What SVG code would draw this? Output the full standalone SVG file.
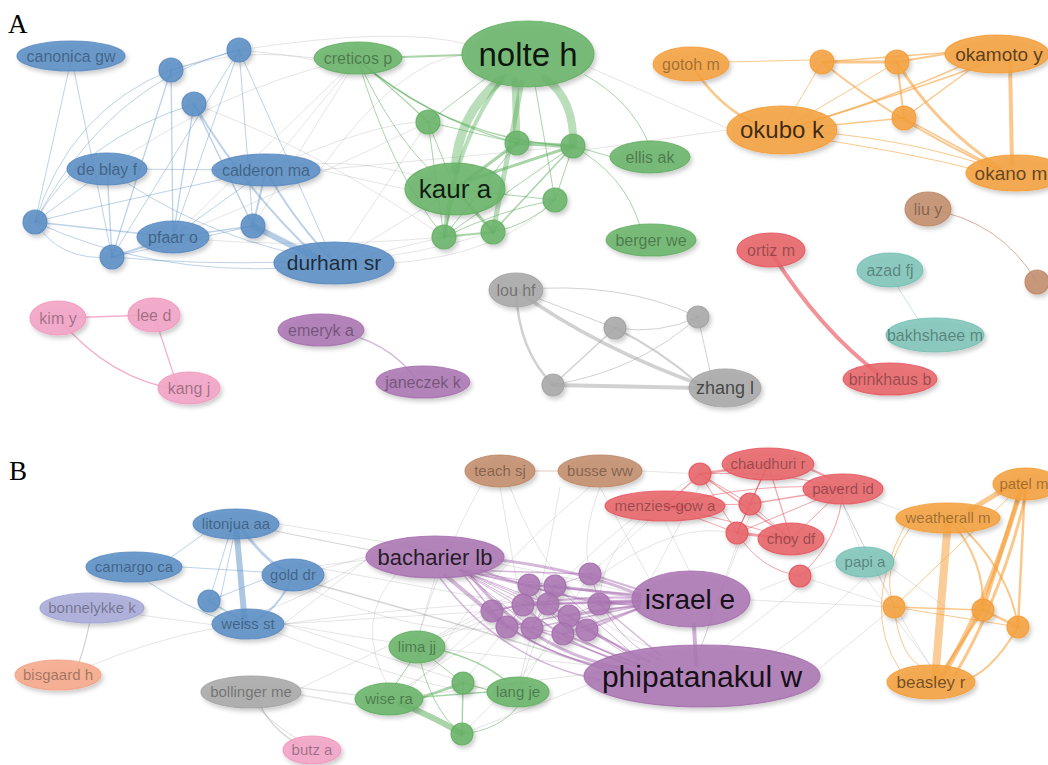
<svg xmlns="http://www.w3.org/2000/svg" width="1048" height="765" viewBox="0 0 1048 765">
<defs>
<filter id="sh" x="-30%" y="-30%" width="160%" height="170%"><feDropShadow dx="2" dy="3" stdDeviation="2.2" flood-color="#000" flood-opacity="0.22"/></filter>
<style>
path{fill:none;stroke-linecap:round}
.eb{stroke:#5b8ec5;stroke-opacity:.4}
.eg{stroke:#8a8a8a;stroke-opacity:.22}
.eG{stroke:#52aa52;stroke-opacity:.5}
.eo{stroke:#f59a30;stroke-opacity:.55}
.er{stroke:#e84a55;stroke-opacity:.5}
.ep{stroke:#a262ab;stroke-opacity:.45}
.ek{stroke:#f08cb8;stroke-opacity:.7}
.ebr{stroke:#b97a55;stroke-opacity:.6}
.et{stroke:#70bfb0;stroke-opacity:.5}
.egr{stroke:#9a9a9a;stroke-opacity:.45}
ellipse,circle{fill-opacity:.88;stroke-width:1.2;stroke-opacity:.8;filter:url(#sh)}
.nb>ellipse,.nb>circle{fill:#5b8ec5;stroke:#5586bd}
.nG>ellipse,.nG>circle{fill:#6ab46a;stroke:#5eab5e}
.no>ellipse,.no>circle{fill:#f5a23f;stroke:#f39a33}
.nr>ellipse,.nr>circle{fill:#e8646a;stroke:#e4505a}
.ngr>ellipse,.ngr>circle{fill:#a8a8a8;stroke:#a0a0a0}
.nk>ellipse,.nk>circle{fill:#f3a3c5;stroke:#f096bd}
.np>ellipse,.np>circle{fill:#ab76b3;stroke:#a36cab}
.nt>ellipse,.nt>circle{fill:#7fc5b9;stroke:#72bdb0}
.nbr>ellipse,.nbr>circle{fill:#c38d6c;stroke:#bb8462}
.nl>ellipse{fill:#a8abd8;stroke:#9ea2d2}
.ns>ellipse{fill:#f6a98a;stroke:#f49f7e}
text{font-family:"Liberation Sans",Arial,sans-serif;text-anchor:middle;fill:#000;fill-opacity:.36;font-size:16px}
.B text{font-size:15px}
text.pl{font-family:"Liberation Serif","Times New Roman",serif;font-size:27px;fill-opacity:1;text-anchor:start}
</style>
</defs>
<rect width="1048" height="765" fill="#fff"/>
<text class="pl" x="8" y="33">A</text>
<text class="pl" x="9" y="480">B</text>

<g id="connectors">
<!-- Panel A grey inter-cluster -->
<path class="eg" d="M239,50 L314,58"/>
<path class="eg" d="M171,70 Q250,45 314,60"/>
<path class="eg" d="M266,170 L358,58"/>
<path class="eg" d="M266,170 Q360,150 455,189"/>
<path class="eg" d="M334,263 L455,189"/>
<path class="eg" d="M334,263 L444,237"/>
<path class="eg" d="M334,263 Q420,255 493,232"/>
<path class="eg" d="M173,237 Q310,180 428,122"/>
<path class="eg" d="M107,169 Q220,90 340,62"/>
<path class="eg" d="M253,226 L358,58"/>
<path class="eg" d="M334,263 L428,122"/>
<path class="eg" d="M194,104 Q320,150 444,237"/>
<path class="eg" d="M320,170 L405,189"/>
<path class="eg" d="M266,170 Q380,120 428,122"/>
<path class="eg" d="M358,58 L173,237"/>
<path class="eg" d="M320,170 Q400,60 462,55"/>
<path class="eg" d="M582,64 L727,128"/>
<path class="eg" d="M585,150 L727,130"/>
<path class="eg" d="M239,50 Q400,25 470,45"/>
<path class="eg" d="M394,263 Q500,255 555,200"/>
<path class="eg" d="M320,170 L573,146"/>
<path class="eg" d="M173,237 Q300,250 444,237"/>
<!-- Panel A blue -->
<path class="eb" d="M71,60 L35,222"/>
<path class="eb" d="M74,70 L112,257"/>
<path class="eb" d="M171,70 L239,50"/>
<path class="eb" d="M171,70 L173,237" style="stroke-width:1.3"/>
<path class="eb" d="M171,70 L112,257" style="stroke-width:1.3"/>
<path class="eb" d="M35,222 Q70,110 171,70"/>
<path class="eb" d="M35,222 Q110,80 239,50"/>
<path class="eb" d="M239,50 L112,257"/>
<path class="eb" d="M239,50 L173,237"/>
<path class="eb" d="M239,50 L253,226"/>
<path class="eb" d="M239,50 L334,263"/>
<path class="eb" d="M194,104 L173,237" style="stroke-width:1.3"/>
<path class="eb" d="M194,104 L253,226" style="stroke-width:1.5"/>
<path class="eb" d="M194,104 Q245,190 318,258" style="stroke-width:2"/>
<path class="eb" d="M35,222 Q80,140 194,104"/>
<path class="eb" d="M107,169 L35,222"/>
<path class="eb" d="M107,169 L112,257" style="stroke-width:1.3"/>
<path class="eb" d="M107,169 L266,170"/>
<path class="eb" d="M107,169 Q190,230 300,255"/>
<path class="eb" d="M266,170 L253,226" style="stroke-width:2"/>
<path class="eb" d="M266,170 Q290,215 330,258" style="stroke-width:2"/>
<path class="eb" d="M266,170 L173,237"/>
<path class="eb" d="M35,222 L173,237" style="stroke-width:1.5"/>
<path class="eb" d="M35,222 Q60,262 112,257"/>
<path class="eb" d="M35,222 Q150,275 290,268"/>
<path class="eb" d="M112,257 L173,237" style="stroke-width:2.2"/>
<path class="eb" d="M112,257 L253,226"/>
<path class="eb" d="M112,257 Q200,265 285,262"/>
<path class="eb" d="M173,237 L253,226" style="stroke-width:1.3"/>
<path class="eb" d="M35,222 Q100,205 266,170"/>
<path class="eb" d="M253,226 L320,260" style="stroke-width:6;stroke-opacity:.45"/>
<!-- Panel A green -->
<path class="eG" d="M500,80 Q458,115 455,170" style="stroke-width:9;stroke-opacity:.4"/>
<path class="eG" d="M505,75 Q455,140 444,237" style="stroke-width:4;stroke-opacity:.4"/>
<path class="eG" d="M515,80 L517,143" style="stroke-width:7;stroke-opacity:.4"/>
<path class="eG" d="M522,82 L493,232" style="stroke-width:5;stroke-opacity:.4"/>
<path class="eG" d="M545,78 Q575,100 573,146" style="stroke-width:8;stroke-opacity:.4"/>
<path class="eG" d="M535,85 L555,200"/>
<path class="eG" d="M490,75 L428,122"/>
<path class="eG" d="M402,57 L462,55" style="stroke-width:2"/>
<path class="eG" d="M585,75 Q630,100 648,142"/>
<path class="eG" d="M358,60 Q400,95 428,122" style="stroke-width:1.2"/>
<path class="eG" d="M358,60 Q430,120 517,143" style="stroke-width:1.2"/>
<path class="eG" d="M358,60 Q450,140 573,146" style="stroke-width:1.5"/>
<path class="eG" d="M358,60 Q390,170 444,237"/>
<path class="eG" d="M358,60 Q390,130 430,170"/>
<path class="eG" d="M428,122 L517,143"/>
<path class="eG" d="M428,122 L444,237"/>
<path class="eG" d="M428,122 L455,189"/>
<path class="eG" d="M455,189 L517,143" style="stroke-width:3"/>
<path class="eG" d="M470,180 L573,146" style="stroke-width:3"/>
<path class="eG" d="M455,189 L493,232" style="stroke-width:3"/>
<path class="eG" d="M455,189 L444,237" style="stroke-width:2"/>
<path class="eG" d="M455,189 L555,200"/>
<path class="eG" d="M517,143 L573,146" style="stroke-width:4"/>
<path class="eG" d="M444,237 L493,232" style="stroke-width:2"/>
<path class="eG" d="M493,232 L573,146" style="stroke-width:1.5"/>
<path class="eG" d="M493,232 Q530,225 555,200"/>
<path class="eG" d="M444,237 L573,146"/>
<path class="eG" d="M555,200 L573,146"/>
<path class="eG" d="M444,237 Q500,210 555,200"/>
<path class="eG" d="M573,146 L612,157"/>
<path class="eG" d="M573,146 Q625,175 640,226"/>
<path class="eG" d="M444,237 L517,143"/>
<!-- Panel A orange -->
<path class="eo" d="M691,64 Q720,110 760,125" style="stroke-width:2.5"/>
<path class="eo" d="M729,62 L810,60"/>
<path class="eo" d="M782,130 L822,62"/>
<path class="eo" d="M782,130 L897,62"/>
<path class="eo" d="M782,130 L904,118" style="stroke-width:1.5"/>
<path class="eo" d="M782,130 Q890,100 985,55" style="stroke-width:1.5"/>
<path class="eo" d="M800,125 Q900,95 995,60" style="stroke-width:1.5"/>
<path class="eo" d="M782,130 Q900,135 1000,170"/>
<path class="eo" d="M790,135 Q900,150 985,172"/>
<path class="eo" d="M822,62 L897,62" style="stroke-width:3"/>
<path class="eo" d="M822,62 L955,52" style="stroke-width:1.5"/>
<path class="eo" d="M822,62 Q900,125 995,168" style="stroke-width:2"/>
<path class="eo" d="M897,62 L945,54" style="stroke-width:2"/>
<path class="eo" d="M897,62 L904,118" style="stroke-width:2"/>
<path class="eo" d="M897,62 Q935,125 1000,168" style="stroke-width:3"/>
<path class="eo" d="M904,118 L990,55" style="stroke-width:1.5"/>
<path class="eo" d="M904,118 L1000,170" style="stroke-width:1.5"/>
<path class="eo" d="M1010,60 L1012,165" style="stroke-width:4"/>
<!-- Panel A small clusters -->
<path class="ebr" d="M928,209 Q1000,220 1037,282"/>
<path class="er" d="M771,252 Q820,330 880,375" style="stroke-width:4;stroke-opacity:.6"/>
<path class="et" d="M890,275 L920,322" style="stroke-width:.8"/>
<path class="egr" d="M516,290 Q600,350 710,388" style="stroke-width:3.5"/>
<path class="egr" d="M516,290 Q518,350 553,385" style="stroke-width:2.5"/>
<path class="egr" d="M516,290 L615,328"/>
<path class="egr" d="M516,290 Q620,280 698,317"/>
<path class="egr" d="M553,385 L700,388" style="stroke-width:4"/>
<path class="egr" d="M553,385 L615,328" style="stroke-width:1.5"/>
<path class="egr" d="M553,385 Q640,370 698,317"/>
<path class="egr" d="M615,328 Q660,350 700,385" style="stroke-width:2"/>
<path class="egr" d="M698,317 L712,380"/>
<path class="egr" d="M615,328 Q660,335 698,317"/>
<path class="ek" d="M58,318 L154,315" style="stroke-width:1.5"/>
<path class="ek" d="M58,318 Q110,380 180,390" style="stroke-width:1.2"/>
<path class="ek" d="M154,315 L178,388" style="stroke-width:1.2"/>
<path class="ep" d="M330,330 Q390,340 418,382" style="stroke-width:1.5"/>

<!-- Panel B grey -->
<path class="eg" d="M92,610 Q85,650 75,672" style="stroke-width:1.2;stroke-opacity:.4"/>
<path class="eg" d="M80,670 Q150,640 215,628"/>
<path class="eg" d="M140,615 L215,625"/>
<path class="eg" d="M255,695 Q270,730 300,745" style="stroke-width:1.2;stroke-opacity:.4"/>
<path class="eg" d="M301,688 L356,695" style="stroke-width:1.3"/>
<path class="eg" d="M301,695 L356,705" style="stroke-width:1.3"/>
<path class="eg" d="M301,688 L390,645"/>
<path class="eg" d="M300,580 Q450,620 600,668" style="stroke-width:1.5;stroke-opacity:.35"/>
<path class="eg" d="M270,530 L370,550" style="stroke-width:1.2;stroke-opacity:.35"/>
<path class="eg" d="M279,524 Q500,560 640,595"/>
<path class="eg" d="M284,624 L366,560"/>
<path class="eg" d="M284,624 L492,611"/>
<path class="eg" d="M284,624 Q420,650 590,665"/>
<path class="eg" d="M284,624 Q450,600 640,600"/>
<path class="eg" d="M284,624 L488,690"/>
<path class="eg" d="M270,630 Q400,680 460,690"/>
<path class="eg" d="M300,575 L366,557"/>
<path class="eg" d="M318,568 L523,605"/>
<path class="eg" d="M300,585 Q420,640 507,627"/>
<path class="eg" d="M480,487 Q440,560 420,632"/>
<path class="eg" d="M500,487 L520,600"/>
<path class="eg" d="M600,487 Q580,540 590,570"/>
<path class="eg" d="M600,487 L650,580"/>
<path class="eg" d="M590,487 Q500,560 440,650"/>
<path class="eg" d="M510,487 Q560,620 660,650"/>
<path class="eg" d="M560,487 Q540,600 520,680"/>
<path class="eg" d="M665,521 L690,572"/>
<path class="eg" d="M640,520 Q600,560 600,600"/>
<path class="eg" d="M700,485 L640,600"/>
<path class="eg" d="M750,515 L700,650"/>
<path class="eg" d="M737,544 L700,650"/>
<path class="eg" d="M800,587 L720,650"/>
<path class="eg" d="M843,504 Q900,620 930,665"/>
<path class="eg" d="M865,577 L930,665"/>
<path class="eg" d="M865,577 Q800,640 760,660"/>
<path class="eg" d="M865,562 L843,504"/>
<path class="eg" d="M836,560 L760,590"/>
<path class="eg" d="M800,576 L894,607"/>
<path class="eg" d="M894,607 L750,600"/>
<path class="eg" d="M894,607 L820,668"/>
<path class="eg" d="M730,533 Q680,520 600,575"/>
<path class="eg" d="M700,474 Q620,520 560,585"/>
<path class="eg" d="M665,506 L590,574"/>
<path class="eg" d="M843,489 L900,510"/>
<path class="eg" d="M642,471 L700,474"/>
<path class="eg" d="M417,647 L492,611"/>
<path class="eg" d="M417,647 L529,585"/>
<path class="eg" d="M389,699 L555,586"/>
<path class="eg" d="M518,692 L548,604"/>
<path class="eg" d="M463,683 L507,627"/>
<path class="eg" d="M462,734 L563,634"/>
<path class="eg" d="M518,692 L590,574"/>
<path class="eg" d="M389,699 L620,670"/>
<path class="eg" d="M462,734 Q550,700 600,680"/>
<path class="eg" d="M435,578 L417,640"/>
<path class="eg" d="M400,570 Q350,620 390,690"/>
<path class="eg" d="M523,605 L417,647"/>
<path class="eg" d="M492,611 Q420,680 400,695"/>
<path class="eg" d="M366,560 L300,568"/>
<path class="eg" d="M366,560 Q300,600 260,612"/>
<path class="eg" d="M880,560 L950,610"/>
<path class="eg" d="M843,504 L894,607"/>
<path class="ebr" d="M535,471 L558,471" style="stroke-opacity:.4"/>
<!-- Panel B blue -->
<path class="eb" d="M236,526 L245,624" style="stroke-width:6;stroke-opacity:.5"/>
<path class="eb" d="M240,526 Q262,558 286,572" style="stroke-width:3"/>
<path class="eb" d="M292,578 Q278,610 252,622" style="stroke-width:2"/>
<path class="eb" d="M170,558 L212,528"/>
<path class="eb" d="M182,567 L262,572"/>
<path class="eb" d="M145,580 Q190,610 225,620"/>
<path class="eb" d="M209,601 L248,624" style="stroke-width:1.5"/>
<path class="eb" d="M209,601 L262,580"/>
<path class="eb" d="M209,601 L232,526"/>
<path class="eb" d="M236,526 L220,600"/>
<!-- Panel B purple -->
<path class="ep" d="M460,570 L590,574" style="stroke-width:1.5"/>
<path class="ep" d="M460,570 L529,585" style="stroke-width:1.5"/>
<path class="ep" d="M460,570 L555,586"/>
<path class="ep" d="M460,570 L523,605"/>
<path class="ep" d="M460,570 L548,604"/>
<path class="ep" d="M460,570 L492,611" style="stroke-width:1.5"/>
<path class="ep" d="M460,570 L599,604"/>
<path class="ep" d="M460,570 L569,616"/>
<path class="ep" d="M445,575 L507,627" style="stroke-width:4"/>
<path class="ep" d="M460,570 L532,628"/>
<path class="ep" d="M460,570 L563,634"/>
<path class="ep" d="M460,570 L587,630"/>
<path class="ep" d="M500,560 Q580,570 640,595" style="stroke-width:3"/>
<path class="ep" d="M470,575 Q530,650 620,668" style="stroke-width:3"/>
<path class="ep" d="M480,570 Q560,600 632,605" style="stroke-width:2"/>
<path class="ep" d="M440,578 Q500,660 600,680" style="stroke-width:1.5"/>
<path class="ep" d="M590,574 L640,590" style="stroke-width:2"/>
<path class="ep" d="M529,585 L640,595" style="stroke-width:2"/>
<path class="ep" d="M555,586 L640,597" style="stroke-width:3"/>
<path class="ep" d="M523,605 L640,600" style="stroke-width:2"/>
<path class="ep" d="M548,604 L640,602" style="stroke-width:2"/>
<path class="ep" d="M492,611 Q560,595 640,598" style="stroke-width:2"/>
<path class="ep" d="M599,604 L640,602" style="stroke-width:4"/>
<path class="ep" d="M569,616 L640,605" style="stroke-width:2"/>
<path class="ep" d="M507,627 Q580,610 640,606" style="stroke-width:1.5"/>
<path class="ep" d="M532,628 L640,606" style="stroke-width:1.5"/>
<path class="ep" d="M563,634 L640,608" style="stroke-width:2"/>
<path class="ep" d="M587,630 L640,608" style="stroke-width:2"/>
<path class="ep" d="M529,585 Q560,640 640,665"/>
<path class="ep" d="M523,605 Q570,650 640,667" style="stroke-width:1.5"/>
<path class="ep" d="M492,611 Q540,660 630,670" style="stroke-width:1.5"/>
<path class="ep" d="M507,627 Q560,660 620,672" style="stroke-width:2"/>
<path class="ep" d="M532,628 L630,665" style="stroke-width:1.5"/>
<path class="ep" d="M563,634 L640,665" style="stroke-width:2"/>
<path class="ep" d="M587,630 L650,662" style="stroke-width:2"/>
<path class="ep" d="M569,616 L640,660" style="stroke-width:1.5"/>
<path class="ep" d="M590,574 Q610,640 660,660"/>
<path class="ep" d="M599,604 L660,655" style="stroke-width:1.5"/>
<path class="ep" d="M548,604 L640,663"/>
<path class="ep" d="M555,586 L640,660"/>
<path class="ep" d="M529,585 L555,586"/>
<path class="ep" d="M529,585 L523,605"/>
<path class="ep" d="M523,605 L548,604" style="stroke-width:1.5"/>
<path class="ep" d="M555,586 L548,604"/>
<path class="ep" d="M492,611 L507,627"/>
<path class="ep" d="M507,627 L532,628" style="stroke-width:1.5"/>
<path class="ep" d="M532,628 L563,634"/>
<path class="ep" d="M563,634 L587,630"/>
<path class="ep" d="M548,604 L569,616"/>
<path class="ep" d="M569,616 L587,630"/>
<path class="ep" d="M492,611 L523,605"/>
<path class="ep" d="M507,627 L523,605"/>
<path class="ep" d="M590,574 L555,586"/>
<path class="ep" d="M599,604 L569,616"/>
<path class="ep" d="M548,604 L532,628"/>
<path class="ep" d="M532,628 L555,586"/>
<path class="ep" d="M694,625 L696,665" style="stroke-width:4;stroke-opacity:.5"/>
<!-- Panel B red -->
<path class="er" d="M665,506 L700,474" style="stroke-width:1.5"/>
<path class="er" d="M665,506 L750,504"/>
<path class="er" d="M665,507 L685,507" style="stroke-width:2.5;stroke-opacity:.9;stroke:#c0283a"/>
<path class="er" d="M665,506 Q760,480 843,489"/>
<path class="er" d="M665,506 Q730,520 791,539"/>
<path class="er" d="M700,474 L768,464" style="stroke-width:2.5"/>
<path class="er" d="M700,474 Q780,470 843,489"/>
<path class="er" d="M700,474 L750,504"/>
<path class="er" d="M700,474 L737,533"/>
<path class="er" d="M700,474 L791,539" style="stroke-width:1.5"/>
<path class="er" d="M768,464 L750,504" style="stroke-width:1.2"/>
<path class="er" d="M768,464 L737,533" style="stroke-width:1.2"/>
<path class="er" d="M768,464 L791,539" style="stroke-width:1.2"/>
<path class="er" d="M812,470 L830,478" style="stroke-width:2"/>
<path class="er" d="M750,504 L843,489" style="stroke-width:1.5"/>
<path class="er" d="M750,504 L737,533"/>
<path class="er" d="M750,504 L791,539"/>
<path class="er" d="M737,533 L791,539" style="stroke-width:3"/>
<path class="er" d="M737,533 L843,489"/>
<path class="er" d="M737,533 Q760,570 800,576"/>
<path class="er" d="M843,489 L791,539"/>
<path class="er" d="M843,489 Q840,540 800,576"/>
<path class="er" d="M665,506 L737,533"/>
<!-- Panel B orange -->
<path class="eo" d="M948,520 L935,680" style="stroke-width:8;stroke-opacity:.5"/>
<path class="eo" d="M970,510 L1020,480" style="stroke-width:5"/>
<path class="eo" d="M1022,485 Q990,600 940,680" style="stroke-width:5"/>
<path class="eo" d="M1028,485 Q1005,590 955,675" style="stroke-width:3"/>
<path class="eo" d="M1022,485 L983,610" style="stroke-width:4"/>
<path class="eo" d="M1025,485 L1018,627" style="stroke-width:2.5"/>
<path class="eo" d="M950,520 Q985,560 983,610" style="stroke-width:2"/>
<path class="eo" d="M955,520 Q1010,570 1018,627" style="stroke-width:2"/>
<path class="eo" d="M910,528 Q880,570 894,607"/>
<path class="eo" d="M905,525 Q860,610 900,670"/>
<path class="eo" d="M894,607 L983,610" style="stroke-width:1.5"/>
<path class="eo" d="M894,607 L1018,627"/>
<path class="eo" d="M894,607 Q900,660 925,668"/>
<path class="eo" d="M983,610 L1018,627" style="stroke-width:2.5"/>
<path class="eo" d="M983,610 L945,668" style="stroke-width:3"/>
<path class="eo" d="M1018,627 Q990,675 960,682" style="stroke-width:2"/>
<path class="eo" d="M1022,485 L894,607"/>
<!-- Panel B green -->
<path class="eG" d="M400,703 Q440,720 462,734" style="stroke-width:6;stroke-opacity:.5"/>
<path class="eG" d="M423,697 L463,683" style="stroke-width:2.5"/>
<path class="eG" d="M423,697 L488,692" style="stroke-width:1.5"/>
<path class="eG" d="M395,685 L410,663"/>
<path class="eG" d="M440,650 Q480,660 505,680" style="stroke-width:1.5"/>
<path class="eG" d="M417,647 Q430,710 462,734"/>
<path class="eG" d="M417,647 L463,683"/>
<path class="eG" d="M463,683 L462,734" style="stroke-width:1.5"/>
<path class="eG" d="M463,683 L488,690"/>
<path class="eG" d="M518,706 Q500,730 462,734"/>
<path class="eg" d="M255,705 Q285,735 305,742" style="stroke-opacity:.3"/>
</g>

<!-- ===== Panel A nodes ===== -->
<g id="canonica-gw" class="nb"><ellipse cx="71" cy="56" rx="54" ry="15"/><text x="71" y="62">canonica gw</text></g>
<g id="a-blue-1" class="nb"><circle cx="171" cy="70" r="12"/></g>
<g id="a-blue-2" class="nb"><circle cx="239" cy="50" r="12"/></g>
<g id="a-blue-3" class="nb"><circle cx="194" cy="104" r="12"/></g>
<g id="de-blay-f" class="nb"><ellipse cx="107" cy="169" rx="40" ry="16"/><text x="107" y="175">de blay f</text></g>
<g id="calderon-ma" class="nb"><ellipse cx="266" cy="170" rx="54" ry="16"/><text x="266" y="176">calderon ma</text></g>
<g id="a-blue-4" class="nb"><circle cx="35" cy="222" r="12"/></g>
<g id="pfaar-o" class="nb"><ellipse cx="173" cy="237" rx="36" ry="16"/><text x="173" y="243">pfaar o</text></g>
<g id="a-blue-5" class="nb"><circle cx="112" cy="257" r="12"/></g>
<g id="a-blue-6" class="nb"><circle cx="253" cy="226" r="12"/></g>
<g id="durham-sr" class="nb"><ellipse cx="334" cy="263" rx="60" ry="21"/><text x="334" y="270" style="font-size:21px;fill-opacity:.72">durham sr</text></g>

<g id="creticos-p" class="nG"><ellipse cx="358" cy="58" rx="44" ry="16"/><text x="358" y="64">creticos p</text></g>
<g id="nolte-h" class="nG"><ellipse cx="528" cy="54" rx="66" ry="33"/><text x="528" y="66" style="font-size:33px;fill-opacity:.9">nolte h</text></g>
<g id="a-green-1" class="nG"><circle cx="428" cy="122" r="12"/></g>
<g id="a-green-2" class="nG"><circle cx="517" cy="143" r="12"/></g>
<g id="a-green-3" class="nG"><circle cx="573" cy="146" r="12"/></g>
<g id="kaur-a" class="nG"><ellipse cx="455" cy="189" rx="50" ry="26"/><text x="455" y="198" style="font-size:26px;fill-opacity:.85">kaur a</text></g>
<g id="a-green-4" class="nG"><circle cx="555" cy="200" r="12"/></g>
<g id="a-green-5" class="nG"><circle cx="444" cy="237" r="12"/></g>
<g id="a-green-6" class="nG"><circle cx="493" cy="232" r="12"/></g>
<g id="ellis-ak" class="nG"><ellipse cx="650" cy="157" rx="40" ry="16"/><text x="650" y="163">ellis ak</text></g>
<g id="berger-we" class="nG"><ellipse cx="651" cy="240" rx="45" ry="16"/><text x="651" y="246">berger we</text></g>

<g id="gotoh-m" class="no"><ellipse cx="691" cy="64" rx="38" ry="17"/><text x="691" y="70">gotoh m</text></g>
<g id="a-orange-1" class="no"><circle cx="822" cy="62" r="12"/></g>
<g id="a-orange-2" class="no"><circle cx="897" cy="62" r="12"/></g>
<g id="a-orange-3" class="no"><circle cx="904" cy="118" r="12"/></g>
<g id="okubo-k" class="no"><ellipse cx="782" cy="130" rx="55" ry="24"/><text x="782" y="138" style="font-size:24px;fill-opacity:.75">okubo k</text></g>
<g id="okamoto-y" class="no"><ellipse cx="997" cy="54" rx="52" ry="19"/><text x="999" y="61" style="font-size:19px;fill-opacity:.65">okamoto y</text></g>
<g id="okano-m" class="no"><ellipse cx="1016" cy="173" rx="50" ry="18"/><text x="1011" y="180" style="font-size:19px;fill-opacity:.6">okano m</text></g>

<g id="liu-y" class="nbr"><ellipse cx="928" cy="209" rx="23" ry="17"/><text x="928" y="215">liu y</text></g>
<g id="a-brown-1" class="nbr"><circle cx="1037" cy="282" r="12"/></g>
<g id="ortiz-m" class="nr"><ellipse cx="771" cy="250" rx="34" ry="17"/><text x="771" y="256">ortiz m</text></g>
<g id="azad-fj" class="nt"><ellipse cx="890" cy="270" rx="33" ry="17"/><text x="890" y="276">azad fj</text></g>
<g id="bakhshaee-m" class="nt"><ellipse cx="935" cy="335" rx="49" ry="17"/><text x="935" y="341">bakhshaee m</text></g>
<g id="brinkhaus-b" class="nr"><ellipse cx="890" cy="379" rx="47" ry="16"/><text x="890" y="385">brinkhaus b</text></g>

<g id="lou-hf" class="ngr"><ellipse cx="516" cy="290" rx="27" ry="17"/><text x="516" y="296">lou hf</text></g>
<g id="a-grey-1" class="ngr"><circle cx="615" cy="328" r="11"/></g>
<g id="a-grey-2" class="ngr"><circle cx="698" cy="317" r="11"/></g>
<g id="a-grey-3" class="ngr"><circle cx="553" cy="385" r="11"/></g>
<g id="zhang-l" class="ngr"><ellipse cx="725" cy="388" rx="36" ry="19"/><text x="725" y="394" style="font-size:18px;fill-opacity:.62">zhang l</text></g>

<g id="kim-y" class="nk"><ellipse cx="58" cy="318" rx="28" ry="17"/><text x="58" y="324">kim y</text></g>
<g id="lee-d" class="nk"><ellipse cx="154" cy="315" rx="26" ry="17"/><text x="154" y="321">lee d</text></g>
<g id="kang-j" class="nk"><ellipse cx="189" cy="388" rx="31" ry="16"/><text x="189" y="394">kang j</text></g>
<g id="emeryk-a" class="np"><ellipse cx="321" cy="330" rx="43" ry="16"/><text x="321" y="336">emeryk a</text></g>
<g id="janeczek-k" class="np"><ellipse cx="423" cy="382" rx="47" ry="16"/><text x="423" y="388">janeczek k</text></g>

<!-- ===== Panel B nodes ===== -->
<g class="B">
<g id="litonjua-aa" class="nb"><ellipse cx="236" cy="524" rx="43" ry="15"/><text x="236" y="529">litonjua aa</text></g>
<g id="camargo-ca" class="nb"><ellipse cx="134" cy="567" rx="48" ry="15"/><text x="134" y="572">camargo ca</text></g>
<g id="gold-dr" class="nb"><ellipse cx="293" cy="575" rx="31" ry="16"/><text x="293" y="580">gold dr</text></g>
<g id="b-blue-1" class="nb"><circle cx="209" cy="601" r="11"/></g>
<g id="weiss-st" class="nb"><ellipse cx="248" cy="624" rx="36" ry="15"/><text x="248" y="629">weiss st</text></g>
<g id="bonnelykke-k" class="nl"><ellipse cx="92" cy="608" rx="52" ry="15"/><text x="92" y="613">bonnelykke k</text></g>
<g id="bisgaard-h" class="ns"><ellipse cx="58" cy="675" rx="43" ry="15"/><text x="58" y="680">bisgaard h</text></g>
<g id="bollinger-me" class="ngr"><ellipse cx="251" cy="692" rx="50" ry="16"/><text x="251" y="697">bollinger me</text></g>
<g id="butz-a" class="nk"><ellipse cx="312" cy="750" rx="29" ry="14"/><text x="312" y="755">butz a</text></g>
<g id="teach-sj" class="nbr"><ellipse cx="500" cy="471" rx="35" ry="16"/><text x="500" y="476">teach sj</text></g>
<g id="busse-ww" class="nbr"><ellipse cx="600" cy="471" rx="42" ry="16"/><text x="600" y="476">busse ww</text></g>

<g id="menzies-gow-a" class="nr"><ellipse cx="665" cy="506" rx="60" ry="15"/><text x="665" y="511">menzies-gow a</text></g>
<g id="b-red-1" class="nr"><circle cx="700" cy="474" r="11"/></g>
<g id="chaudhuri-r" class="nr"><ellipse cx="768" cy="464" rx="46" ry="16"/><text x="768" y="469">chaudhuri r</text></g>
<g id="paverd-id" class="nr"><ellipse cx="843" cy="489" rx="40" ry="15"/><text x="843" y="494">paverd id</text></g>
<g id="b-red-2" class="nr"><circle cx="750" cy="504" r="11"/></g>
<g id="b-red-3" class="nr"><circle cx="737" cy="533" r="11"/></g>
<g id="choy-df" class="nr"><ellipse cx="791" cy="539" rx="33" ry="16"/><text x="791" y="544">choy df</text></g>
<g id="b-red-4" class="nr"><circle cx="800" cy="576" r="11"/></g>
<g id="papi-a" class="nt"><ellipse cx="865" cy="562" rx="29" ry="15"/><text x="865" y="567">papi a</text></g>

<g id="weatherall-m" class="no"><ellipse cx="948" cy="518" rx="52" ry="15"/><text x="948" y="523">weatherall m</text></g>
<g id="patel-m" class="no"><ellipse cx="1026" cy="484" rx="33" ry="16"/><text x="1024" y="489">patel m</text></g>
<g id="b-orange-1" class="no"><circle cx="894" cy="607" r="11"/></g>
<g id="b-orange-2" class="no"><circle cx="983" cy="610" r="11"/></g>
<g id="b-orange-3" class="no"><circle cx="1018" cy="627" r="11"/></g>
<g id="beasley-r" class="no"><ellipse cx="931" cy="682" rx="44" ry="17"/><text x="931" y="688" style="font-size:17px;fill-opacity:.55">beasley r</text></g>

<g id="bacharier-lb" class="np"><ellipse cx="435" cy="557" rx="69" ry="21"/><text x="435" y="565" style="font-size:22px;fill-opacity:.8">bacharier lb</text></g>
<g id="b-purple-1" class="np"><circle cx="590" cy="574" r="11"/></g>
<g id="b-purple-2" class="np"><circle cx="529" cy="585" r="11"/></g>
<g id="b-purple-3" class="np"><circle cx="555" cy="586" r="11"/></g>
<g id="b-purple-4" class="np"><circle cx="523" cy="605" r="11"/></g>
<g id="b-purple-5" class="np"><circle cx="548" cy="604" r="11"/></g>
<g id="b-purple-6" class="np"><circle cx="492" cy="611" r="11"/></g>
<g id="b-purple-7" class="np"><circle cx="599" cy="604" r="11"/></g>
<g id="b-purple-8" class="np"><circle cx="569" cy="616" r="11"/></g>
<g id="b-purple-9" class="np"><circle cx="507" cy="627" r="11"/></g>
<g id="b-purple-10" class="np"><circle cx="532" cy="628" r="11"/></g>
<g id="b-purple-11" class="np"><circle cx="563" cy="634" r="11"/></g>
<g id="b-purple-12" class="np"><circle cx="587" cy="630" r="11"/></g>
<g id="israel-e" class="np"><ellipse cx="691" cy="599" rx="59" ry="28"/><text x="690" y="609" style="font-size:28px;fill-opacity:.9">israel e</text></g>
<g id="phipatanakul-w" class="np"><ellipse cx="702" cy="676" rx="118" ry="31"/><text x="702" y="687" style="font-size:30px;fill-opacity:.9">phipatanakul w</text></g>

<g id="lima-jj" class="nG"><ellipse cx="417" cy="647" rx="28" ry="16"/><text x="417" y="652">lima jj</text></g>
<g id="wise-ra" class="nG"><ellipse cx="389" cy="699" rx="34" ry="16"/><text x="389" y="704">wise ra</text></g>
<g id="lang-je" class="nG"><ellipse cx="518" cy="692" rx="31" ry="15"/><text x="518" y="697">lang je</text></g>
<g id="b-green-1" class="nG"><circle cx="463" cy="683" r="11"/></g>
<g id="b-green-2" class="nG"><circle cx="462" cy="734" r="11"/></g>
</g>
</svg>
